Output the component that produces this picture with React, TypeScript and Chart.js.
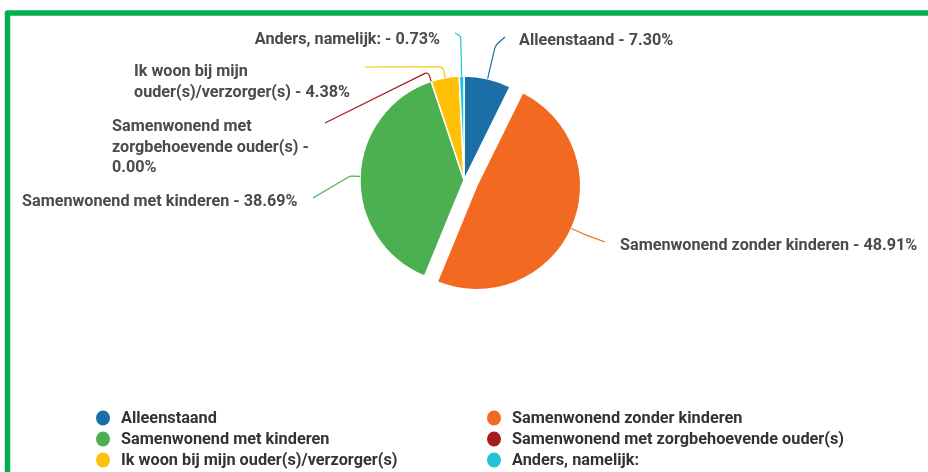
import React, { useEffect, useRef } from "react";
import { Chart, registerables } from "chart.js";

Chart.register(...registerables);

// ---- data ----
const categories = [
  "Alleenstaand",
  "Samenwonend zonder kinderen",
  "Samenwonend met kinderen",
  "Samenwonend met zorgbehoevende ouder(s)",
  "Ik woon bij mijn ouder(s)/verzorger(s)",
  "Anders, namelijk:",
];
const percentages = [7.3, 48.91, 38.69, 0.0, 4.38, 0.73];
const sliceColors = ["#1a6fa8", "#f26a22", "#4caf50", "#a81c1f", "#ffc107", "#22c3d8"];
const explodeDistances = [0, 14, 0, 0, 0, 0];

// ---- callout layout (label placement only) ----
type Callout = {
  ext: number;
  end: [number, number];
  round: number;
  textX: number;
  textY: number;
  align: CanvasTextAlign;
  breaks: number[];
};
const calloutLayout: Callout[] = [
  { ext: 34, end: [505, 37], round: 10, textX: 519, textY: 41, align: "left", breaks: [] },
  { ext: 14, end: [605, 242], round: 4, textX: 620, textY: 246, align: "left", breaks: [] },
  { ext: 10, end: [313, 198], round: 6, textX: 22, textY: 202, align: "left", breaks: [] },
  { ext: 10, end: [325, 123], round: 3, textX: 112, textY: 127, align: "left", breaks: [2, 5] },
  { ext: 11, end: [365, 67], round: 5, textX: 134, textY: 72, align: "left", breaks: [4] },
  { ext: 40, end: [455, 33], round: 4, textX: 440, textY: 40, align: "right", breaks: [] },
];

const legendCols = [103, 494];
const legendRows = [418, 439, 460];

const frameGreen = "#00b04f";
const labelColor = "#4a4a4a";
const legendColor = "#333333";
const labelFont = "bold 16.2px Roboto";
const legendFont = "bold 16.3px Roboto";

const framePlugin = {
  id: "frame",
  beforeDraw(chart: any) {
    const ctx = chart.ctx;
    ctx.save();
    ctx.fillStyle = "#ffffff";
    ctx.fillRect(0, 0, chart.width, chart.height);
    ctx.strokeStyle = frameGreen;
    ctx.lineWidth = 5.5;
    ctx.lineJoin = "round";
    ctx.strokeRect(7.5, 13, 1000, 1000);
    ctx.restore();
  },
};

// pulls exploded slices outward along their bisector
const explodePlugin = {
  id: "explode",
  afterDatasetUpdate(chart: any, args: any) {
    if (args.index !== 0) return;
    const meta = chart.getDatasetMeta(0);
    meta.data.forEach((arc: any, i: number) => {
      const e = explodeDistances[i];
      if (!e) return;
      const mid = (arc.startAngle + arc.endAngle) / 2;
      arc.x += Math.cos(mid) * e;
      arc.y += Math.sin(mid) * e;
    });
  },
};

const calloutPlugin = {
  id: "callouts",
  afterDatasetsDraw(chart: any) {
    const ctx = chart.ctx;
    const meta = chart.getDatasetMeta(0);
    ctx.save();
    meta.data.forEach((arc: any, i: number) => {
      const p = arc.getProps(["x", "y", "startAngle", "endAngle", "outerRadius"], true);
      const lay = calloutLayout[i];
      const mid = (p.startAngle + p.endAngle) / 2;
      const r = p.outerRadius;
      const cx = Math.cos(mid);
      const cy = Math.sin(mid);
      const sx = p.x + cx * r;
      const sy = p.y + cy * r;
      const kx = sx + cx * lay.ext;
      const ky = sy + cy * lay.ext;
      ctx.beginPath();
      ctx.strokeStyle = sliceColors[i];
      ctx.lineWidth = 1.2;
      ctx.moveTo(sx, sy);
      ctx.arcTo(kx, ky, lay.end[0], lay.end[1], lay.round);
      ctx.lineTo(lay.end[0], lay.end[1]);
      ctx.stroke();

      const text = `${categories[i]} - ${percentages[i].toFixed(2)}%`;
      const words = text.split(" ");
      const lines: string[] = [];
      let prev = 0;
      [...lay.breaks, words.length].forEach((b) => {
        lines.push(words.slice(prev, b).join(" "));
        prev = b;
      });
      ctx.fillStyle = labelColor;
      ctx.font = labelFont;
      ctx.textAlign = lay.align;
      ctx.textBaseline = "middle";
      lines.forEach((ln, k) => {
        ctx.fillText(ln, lay.textX, lay.textY + k * 20.7);
      });
    });
    ctx.restore();
  },
};

const legendPlugin = {
  id: "twoColLegend",
  afterDraw(chart: any) {
    const ctx = chart.ctx;
    ctx.save();
    categories.forEach((cat, i) => {
      const x = legendCols[i % 2];
      const y = legendRows[Math.floor(i / 2)];
      ctx.beginPath();
      ctx.fillStyle = sliceColors[i];
      ctx.ellipse(x, y, 7, 7.5, 0, 0, Math.PI * 2);
      ctx.fill();
      ctx.fillStyle = legendColor;
      ctx.font = legendFont;
      ctx.textAlign = "left";
      ctx.textBaseline = "middle";
      ctx.fillText(cat, x + 18, y + 0.5);
    });
    ctx.restore();
  },
};

export default function App() {
  const ref = useRef<HTMLCanvasElement>(null);
  useEffect(() => {
    if (!ref.current) return;
    const chart = new Chart(ref.current, {
      type: "pie",
      data: {
        labels: categories,
        datasets: [
          {
            data: percentages,
            backgroundColor: sliceColors,
            borderColor: "#ffffff",
            borderWidth: 1.5,
            radius: 104,
          } as any,
        ],
      },
      options: {
        animation: false,
        responsive: true,
        maintainAspectRatio: false,
        layout: { padding: { top: 0, bottom: 112, left: 0, right: 0 } },
        plugins: {
          legend: { display: false },
          tooltip: { enabled: false },
        },
      },
      plugins: [framePlugin, explodePlugin, calloutPlugin, legendPlugin],
    });
    return () => chart.destroy();
  }, []);
  return (
    <div style={{ position: "absolute", left: 0, top: 0, width: 928, height: 472 }}>
      <canvas ref={ref} />
    </div>
  );
}
